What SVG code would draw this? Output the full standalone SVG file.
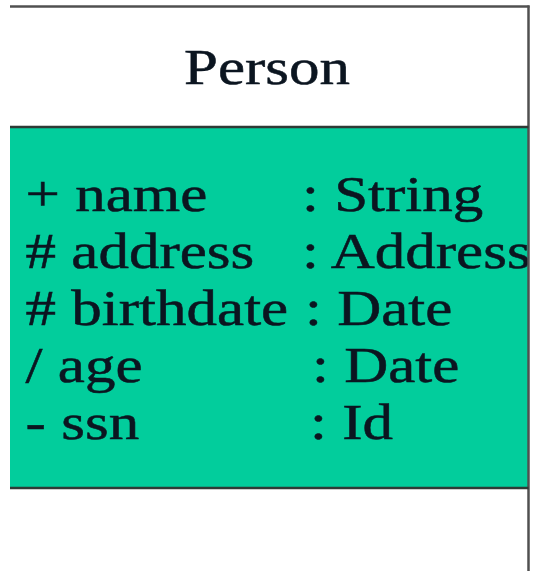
<svg xmlns="http://www.w3.org/2000/svg" width="534" height="571" viewBox="0 0 534 571">
  <style>
    .label { font-family: "Liberation Serif", "Times New Roman", serif; font-size: 50px; fill: #0b1520; stroke: #0b1520; stroke-width: 0.5px; }
    .edge { stroke: #505050; stroke-width: 2.5; fill: none; }
    .divider { stroke: #2e3a36; stroke-width: 2.5; fill: none; }
  </style>
  <rect width="534" height="571" fill="#ffffff"/>
  <g id="person">
    <!-- attribute compartment -->
    <rect x="10" y="127" width="518.5" height="361" fill="#02cd9c"/>
    <g transform="scale(1.22 1)">
      <!-- class name -->
      <text class="label" x="218.9" y="84" text-anchor="middle">Person</text>
      <!-- attribute names -->
      <text class="label" x="21" y="211">+ name</text>
      <text class="label" x="21" y="268"># address</text>
      <text class="label" x="21" y="325"># birthdate</text>
      <text class="label" x="21" y="382">/ age</text>
      <text class="label" x="21" y="439">- ssn</text>
      <!-- attribute types -->
      <text class="label" x="247.5" y="211">: String</text>
      <text class="label" x="247.5" y="268">: Address</text>
      <text class="label" x="250" y="325">: Date</text>
      <text class="label" x="255.7" y="382">: Date</text>
      <text class="label" x="254.1" y="439">: Id</text>
    </g>
    <!-- outline and compartment dividers -->
    <line class="edge" x1="10" y1="6.5" x2="529.5" y2="6.5"/>
    <line class="edge" x1="528.5" y1="5.5" x2="528.5" y2="571"/>
    <line class="divider" x1="10" y1="127" x2="528.5" y2="127"/>
    <line class="divider" x1="10" y1="488" x2="528.5" y2="488"/>
  </g>
</svg>
